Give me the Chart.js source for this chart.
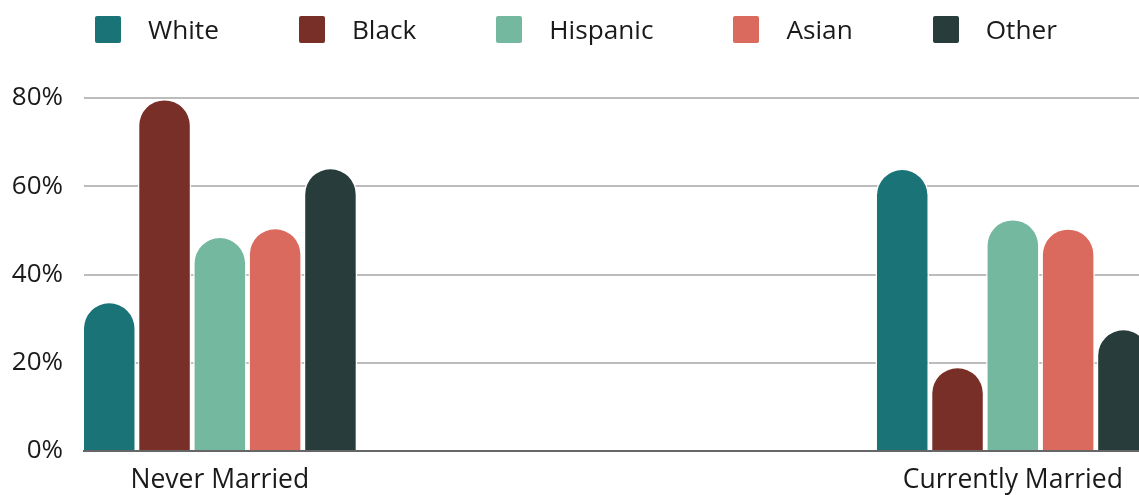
<!DOCTYPE html>
<html>
<head>
<meta charset="utf-8">
<title>Marital status by race</title>
<script src="https://cdn.jsdelivr.net/npm/chart.js@4.4.1/dist/chart.umd.min.js"></script>
<style>
  body { margin: 0; background: #fff; }
  #wrap { position: relative; width: 1139px; height: 495px; }
  #legend {
    position: absolute;
    top: 16px;
    left: 95px;
    display: flex;
    gap: 80px;
    font: 26.2px "Open Sans", sans-serif;
    color: #1a1a1a;
  }
  .item { display: flex; align-items: center; gap: 27px; line-height: 27px; }
  .swatch { width: 26px; height: 27px; border-radius: 2px; }
</style>
</head>
<body>
<div id="wrap">
  <div id="legend"></div>
  <canvas id="chart" width="1139" height="495"></canvas>
</div>
<script>
const categories = ["Never Married", "Currently Married"];
const races = ["White", "Black", "Hispanic", "Asian", "Other"];

// percent of each group, [never married, currently married]
const white = [33.8, 64.0];
const black = [79.8, 19.1];
const hispanic = [48.6, 52.6];
const asian = [50.6, 50.5];
const other = [64.2, 27.7];

const yTicks = [0, 20, 40, 60, 80];

const colors = ["#1a7376", "#782f27", "#75b8a0", "#d96a5d", "#283d3b"];
const seriesValues = [white, black, hispanic, asian, other];

Chart.defaults.font.family = "'Open Sans', sans-serif";
Chart.defaults.font.size = 26;
Chart.defaults.color = "#1a1a1a";

const datasets = races.map((race, i) => ({
  label: race,
  data: seriesValues[i].map((v, j) => ({ x: j, y: v })),
  backgroundColor: colors[i],
  borderColor: "#fff",
  borderWidth: 1.5,
  borderSkipped: "start",
  borderRadius: 40,
  categoryPercentage: 0.3487,
  barPercentage: 0.967,
}));

const ctx = document.getElementById("chart");

const chart = new Chart(ctx, {
  type: "bar",
  data: { datasets: datasets },
  options: {
    responsive: false,
    animation: false,
    layout: { padding: { top: 98 } },
    plugins: {
      legend: { display: false },
      tooltip: { enabled: false },
    },
    scales: {
      x: {
        type: "linear",
        min: -0.1713,
        max: 1.1591,
        offset: false,
        grid: { display: false },
        border: { display: true, color: "#666", width: 2, z: 1 },
        afterBuildTicks: (scale) => {
          scale.ticks = categories.map((c, i) => ({ value: i }));
        },
        afterFit: (scale) => {
          scale.height = 44;
        },
        ticks: {
          callback: (value) => categories[value],
          font: { size: 26.5 },
          padding: 6,
          maxRotation: 0,
          autoSkip: false,
        },
      },
      y: {
        min: 0,
        max: 80,
        afterBuildTicks: (scale) => {
          scale.ticks = yTicks.map((v) => ({ value: v }));
        },
        afterFit: (scale) => {
          scale.width = 84;
        },
        grid: { color: "#bcbcbc", lineWidth: 2, drawTicks: false },
        border: { display: false },
        ticks: {
          callback: (value) => value + "%",
          padding: 21,
        },
      },
    },
  },
});

// legend row built from the datasets
const legend = document.getElementById("legend");
chart.data.datasets.forEach((ds) => {
  const item = document.createElement("div");
  item.className = "item";
  const swatch = document.createElement("span");
  swatch.className = "swatch";
  swatch.style.background = ds.backgroundColor;
  const label = document.createElement("span");
  label.textContent = ds.label;
  item.appendChild(swatch);
  item.appendChild(label);
  legend.appendChild(item);
});
</script>
</body>
</html>
